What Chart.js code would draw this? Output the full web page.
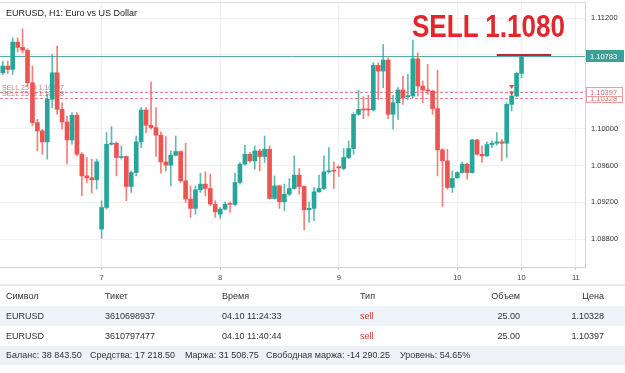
<!DOCTYPE html>
<html>
<head>
<meta charset="utf-8">
<script src="https://cdn.jsdelivr.net/npm/chart.js@4.4.1/dist/chart.umd.min.js"></script>
<style>
  body { margin: 0; background: #fff; width: 625px; height: 373px; overflow: hidden; position: relative;
         font-family: 'Liberation Sans', Arial, sans-serif; }
  #wrap { position: absolute; left: 0; top: 0; width: 625px; height: 285px; }
  #title { position: absolute; left: 6px; top: 9px; font-size: 9px; line-height: 9px; color: #222; white-space: nowrap; }
  #sell { position: absolute; left: 412px; top: 11px; font-size: 31px; line-height: 31px; font-weight: bold;
          color: #e3262e; white-space: nowrap; transform: scaleX(0.84); transform-origin: 0 0; }
  .sep { position: absolute; left: 0; top: 284px; width: 625px; height: 2px; background: #e8e8e8; }
  .row { position: absolute; left: 0; width: 625px; height: 20px; font-size: 9px; line-height: 20px; color: #333; }
  .row span { position: absolute; top: 0; white-space: nowrap; }
  .odd { background: #eef4fa; }
  .foot { background: #eef2f6; }
  .sell { color: #cc3333; }
</style>
</head>
<body>
<div id="wrap"><canvas id="chart" width="625" height="285"></canvas></div>
<div id="title">EURUSD, H1: Euro vs US Dollar</div>
<div id="sell">SELL 1.1080</div>
<div class="sep"></div>
<div id="table"></div>
<script>
// hourly candles, oldest first
const opens = [1.10606, 1.10679, 1.10642, 1.10939, 1.10881, 1.10852, 1.10498, 1.10065, 1.09975, 1.09856,
  1.10318, 1.10606, 1.10209, 1.10072, 1.09877, 1.10144, 1.09722, 1.09487, 1.09466, 1.09444,
  1.08910, 1.09144, 1.09830, 1.09841, 1.09686, 1.09697, 1.09372, 1.09523, 1.09856, 1.10202,
  1.10036, 1.10011, 1.09928, 1.09639, 1.09603, 1.09711, 1.09751, 1.09433, 1.09235, 1.09134,
  1.09336, 1.09397, 1.09350, 1.09180, 1.09072, 1.09126, 1.09188, 1.09177, 1.09415, 1.09614,
  1.09722, 1.09650, 1.09758, 1.09697, 1.09776, 1.09242, 1.09379, 1.09206, 1.09289, 1.09350,
  1.09495, 1.09372, 1.09119, 1.09134, 1.09314, 1.09350, 1.09531, 1.09541, 1.09585, 1.09567,
  1.09686, 1.09783, 1.10155, 1.10209, 1.10209, 1.10202, 1.10686, 1.10624, 1.10744, 1.10155,
  1.10281, 1.10419, 1.10346, 1.10354, 1.10758, 1.10462, 1.10419, 1.10408, 1.10217, 1.09769,
  1.09650, 1.09361, 1.09466, 1.09523, 1.09614, 1.09523, 1.09877, 1.09722, 1.09704, 1.09827,
  1.09841, 1.09856, 1.09841, 1.10263, 1.10354, 1.10599];
const highs = [1.10733, 1.10733, 1.10985, 1.10985, 1.11083, 1.10866, 1.10679, 1.10101, 1.09993, 1.10372,
  1.10805, 1.10895, 1.10281, 1.10137, 1.10173, 1.10173, 1.09740, 1.09686, 1.09668, 1.09668,
  1.09217, 1.09957, 1.10022, 1.09856, 1.09812, 1.09704, 1.09541, 1.09920, 1.10227, 1.10227,
  1.10505, 1.10227, 1.09964, 1.09913, 1.09758, 1.09920, 1.09758, 1.09841, 1.09379, 1.09379,
  1.09516, 1.09531, 1.09505, 1.09217, 1.09144, 1.09206, 1.09206, 1.09516, 1.09632, 1.09819,
  1.09740, 1.09812, 1.09776, 1.09920, 1.09812, 1.09487, 1.09386, 1.09397, 1.09458, 1.09704,
  1.09567, 1.09379, 1.09206, 1.09361, 1.09495, 1.09704, 1.09794, 1.09639, 1.09596, 1.09783,
  1.09866, 1.10173, 1.10415, 1.10346, 1.10361, 1.10715, 1.10715, 1.10913, 1.10769, 1.10361,
  1.10444, 1.10570, 1.10588, 1.10960, 1.10823, 1.10516, 1.10697, 1.10419, 1.10635, 1.09783,
  1.09776, 1.09541, 1.09531, 1.09639, 1.09625, 1.09884, 1.09884, 1.09812, 1.09856, 1.09866,
  1.09957, 1.09884, 1.10281, 1.10408, 1.10614, 1.10794];
const lows = [1.10588, 1.10599, 1.10588, 1.10830, 1.10823, 1.10462, 1.10029, 1.09758, 1.09722, 1.09668,
  1.10227, 1.10155, 1.09993, 1.09614, 1.09830, 1.09704, 1.09271, 1.09415, 1.09300, 1.09343,
  1.08809, 1.09126, 1.09819, 1.09487, 1.09668, 1.09217, 1.09307, 1.09487, 1.09794, 1.09957,
  1.09993, 1.09697, 1.09516, 1.09541, 1.09379, 1.09704, 1.09415, 1.09198, 1.09036, 1.09072,
  1.09307, 1.09271, 1.09162, 1.09036, 1.09025, 1.09119, 1.09090, 1.09162, 1.09397, 1.09603,
  1.09632, 1.09559, 1.09541, 1.09632, 1.09235, 1.09235, 1.09134, 1.09108, 1.09271, 1.09343,
  1.09289, 1.08902, 1.08982, 1.09000, 1.09307, 1.09336, 1.09516, 1.09350, 1.09480, 1.09552,
  1.09675, 1.09722, 1.10144, 1.10108, 1.10137, 1.10191, 1.10318, 1.10444, 1.10108, 1.09993,
  1.10101, 1.10263, 1.10318, 1.10336, 1.10354, 1.10281, 1.10372, 1.10155, 1.09487, 1.09155,
  1.09343, 1.09307, 1.09460, 1.09516, 1.09451, 1.09516, 1.09711, 1.09632, 1.09697, 1.09794,
  1.09819, 1.09650, 1.09686, 1.10191, 1.10346, 1.10552];
const closes = [1.10679, 1.10642, 1.10939, 1.10881, 1.10852, 1.10498, 1.10065, 1.09975, 1.09856, 1.10318,
  1.10606, 1.10209, 1.10072, 1.09877, 1.10144, 1.09722, 1.09487, 1.09466, 1.09444, 1.09639,
  1.09144, 1.09830, 1.09841, 1.09686, 1.09697, 1.09372, 1.09523, 1.09856, 1.10202, 1.10036,
  1.10011, 1.09928, 1.09639, 1.09603, 1.09711, 1.09751, 1.09433, 1.09235, 1.09134, 1.09336,
  1.09397, 1.09350, 1.09180, 1.09097, 1.09126, 1.09180, 1.09177, 1.09415, 1.09614, 1.09722,
  1.09650, 1.09758, 1.09697, 1.09776, 1.09242, 1.09379, 1.09206, 1.09289, 1.09350, 1.09495,
  1.09372, 1.09119, 1.09134, 1.09314, 1.09350, 1.09531, 1.09541, 1.09538, 1.09574, 1.09686,
  1.09783, 1.10155, 1.10209, 1.10202, 1.10202, 1.10686, 1.10624, 1.10744, 1.10155, 1.10281,
  1.10419, 1.10336, 1.10354, 1.10758, 1.10462, 1.10419, 1.10408, 1.10217, 1.09769, 1.09650,
  1.09361, 1.09458, 1.09523, 1.09614, 1.09523, 1.09877, 1.09722, 1.09704, 1.09827, 1.09841,
  1.09856, 1.09841, 1.10263, 1.10354, 1.10599, 1.10783];

const dayTicks = [20, 44, 68, 92, 105, 116];
const dayLabels = ['7', '8', '9', '10', '10', '11'];
const priceTicks = [1.088, 1.092, 1.096, 1.100, 1.104, 1.108, 1.112];

const bidPrice = 1.10783;
const sellPrices = [1.10397, 1.10328];
const sellVolumes = [25, 25];
const sellBar = [103, 103];
const targetPrice = 1.1080;
const targetFrom = 100, targetTo = 111;

const tableHead = ['Символ', 'Тикет', 'Время', 'Тип', 'Объем', 'Цена'];
const orders = [
  ['EURUSD', '3610698937', '04.10 11:24:33', 'sell', '25.00', '1.10328'],
  ['EURUSD', '3610797477', '04.10 11:40:44', 'sell', '25.00', '1.10397']
];
const account = ['Баланс: 38 843.50', 'Средства: 17 218.50', 'Маржа: 31 508.75',
  'Свободная маржа: -14 290.25', 'Уровень: 54.65%'];

const UP = '#26a69a', DOWN = '#ef5350';
const UP_WICK = 'rgba(38,166,154,0.75)', DOWN_WICK = 'rgba(239,83,80,0.75)';
const up = opens.map((o, i) => closes[i] >= o);

Chart.defaults.font.family = "'Liberation Sans', Arial, sans-serif";

const overlay = {
  id: 'overlay',
  beforeDatasetsDraw(chart) {
    const { ctx, chartArea: a, scales: { x, y } } = chart;
    ctx.save();
    ctx.strokeStyle = '#dcdcdc';
    ctx.lineWidth = 1;
    ctx.beginPath(); ctx.moveTo(a.left, a.top + 0.5); ctx.lineTo(a.right, a.top + 0.5); ctx.stroke();

    ctx.setLineDash([3, 2]);
    ctx.strokeStyle = 'rgba(214,96,96,0.75)';
    sellPrices.forEach(p => {
      const py = Math.round(y.getPixelForValue(p)) + 0.5;
      ctx.beginPath(); ctx.moveTo(a.left, py); ctx.lineTo(a.right, py); ctx.stroke();
    });
    ctx.setLineDash([]);
    ctx.font = "7px 'Liberation Sans'";
    ctx.fillStyle = 'rgba(214,96,96,0.85)';
    ctx.textBaseline = 'bottom';
    sellPrices.forEach((p, i) => {
      ctx.fillText('SELL ' + sellVolumes[i] + ' at ' + p.toFixed(5), a.left + 2, y.getPixelForValue(p) - 0.5);
    });

    ctx.strokeStyle = '#5aa9aa';
    const by = Math.round(y.getPixelForValue(bidPrice)) + 0.5;
    ctx.beginPath(); ctx.moveTo(a.left, by); ctx.lineTo(a.right, by); ctx.stroke();
    ctx.restore();
  },
  afterDraw(chart) {
    const { ctx, chartArea: a, scales: { x, y } } = chart;
    ctx.save();
    // order markers
    ctx.fillStyle = '#e04848';
    sellPrices.forEach((p, i) => {
      const px = x.getPixelForValue(sellBar[i]);
      const py = y.getPixelForValue(p) - 3;
      ctx.beginPath(); ctx.moveTo(px - 2.5, py - 4); ctx.lineTo(px + 2.5, py - 4); ctx.lineTo(px, py); ctx.closePath(); ctx.fill();
    });
    // target level
    ctx.strokeStyle = '#c0282e';
    ctx.lineWidth = 2;
    const ty = y.getPixelForValue(targetPrice);
    ctx.beginPath(); ctx.moveTo(x.getPixelForValue(targetFrom), ty); ctx.lineTo(x.getPixelForValue(targetTo), ty); ctx.stroke();

    // price boxes on the axis
    ctx.lineWidth = 1;
    ctx.font = "7.5px 'Liberation Sans'";
    ctx.textBaseline = 'middle';
    [1, 0].forEach(i => {
      const py = Math.round(y.getPixelForValue(sellPrices[i]));
      ctx.fillStyle = '#fff';
      ctx.fillRect(a.right + 1, py - 5, 37, 10);
      ctx.strokeStyle = '#e6a0a0';
      ctx.strokeRect(a.right + 1.5, py - 4.5, 36, 9);
      ctx.fillStyle = '#d86a6e';
      ctx.fillText(sellPrices[i].toFixed(5), a.right + 5, py + 0.5);
    });
    const by = Math.round(y.getPixelForValue(bidPrice));
    ctx.fillStyle = '#3aa196';
    ctx.fillRect(a.right + 1, by - 6, 38, 12);
    ctx.fillStyle = '#fff';
    ctx.fillText(bidPrice.toFixed(5), a.right + 5, by + 0.5);
    ctx.restore();
  }
};

new Chart(document.getElementById('chart'), {
  type: 'bar',
  data: {
    datasets: [
      {
        label: 'wick',
        data: opens.map((_, i) => ({ x: i, y: [lows[i], highs[i]] })),
        backgroundColor: up.map(u => u ? UP_WICK : DOWN_WICK),
        barThickness: 1,
        grouped: false,
        order: 2
      },
      {
        label: 'body',
        data: opens.map((o, i) => ({ x: i, y: [o, closes[i]] })),
        backgroundColor: up.map(u => u ? UP : DOWN),
        barThickness: 4,
        minBarLength: 1,
        grouped: false,
        order: 1
      }
    ]
  },
  options: {
    responsive: false,
    animation: false,
    devicePixelRatio: 1,
    layout: { padding: { top: 2, left: 0, right: 0, bottom: 0 } },
    plugins: { legend: { display: false }, tooltip: { enabled: false } },
    scales: {
      x: {
        type: 'linear',
        min: -0.57,
        max: 117.85,
        offset: false,
        afterFit: (axis) => { axis.height = 18; axis.paddingLeft = 0; axis.paddingRight = 0; },
        afterBuildTicks: (axis) => { axis.ticks = dayTicks.map(v => ({ value: v })); },
        ticks: {
          callback: (v, i) => dayLabels[i],
          autoSkip: false, maxRotation: 0,
          font: { size: 7.5 }, color: '#444', padding: 3
        },
        grid: { color: '#f0f0f0', offset: false, tickLength: 3, tickColor: '#c8c8c8' },
        border: { color: '#d3d3d3' }
      },
      y: {
        position: 'right',
        min: 1.08498,
        max: 1.11374,
        afterFit: (axis) => { axis.width = 40; axis.paddingTop = 0; axis.paddingBottom = 0; },
        afterBuildTicks: (axis) => { axis.ticks = priceTicks.map(v => ({ value: v })); },
        ticks: {
          callback: (v) => v.toFixed(5),
          font: { size: 7.5 }, color: '#333', padding: 6
        },
        grid: { color: '#f0f0f0', drawTicks: false },
        border: { color: '#d3d3d3' }
      }
    }
  },
  plugins: [overlay]
});

// order table under the chart
const colLeft = [6, 105, 222, 360];
const colRight = [105, 21];
const rowTops = [286, 306, 326];
const footLeft = [6, 90, 185, 266, 400];

function rowHtml(cells, top, cls) {
  let html = `<div class="row ${cls}" style="top:${top}px">`;
  cells.forEach((c, i) => {
    const pos = i < 4 ? `left:${colLeft[i]}px` : `right:${colRight[i - 4]}px`;
    const extra = c === 'sell' ? ' class="sell"' : '';
    html += `<span${extra} style="${pos}">${c}</span>`;
  });
  return html + '</div>';
}

let tableHtml = rowHtml(tableHead, rowTops[0], '');
orders.forEach((o, i) => { tableHtml += rowHtml(o, rowTops[i + 1], i === 0 ? 'odd' : ''); });
tableHtml += '<div class="row foot" style="top:346px;height:19px;line-height:19px">';
account.forEach((t, i) => { tableHtml += `<span style="left:${footLeft[i]}px">${t}</span>`; });
tableHtml += '</div>';
document.getElementById('table').innerHTML = tableHtml;
</script>
</body>
</html>
